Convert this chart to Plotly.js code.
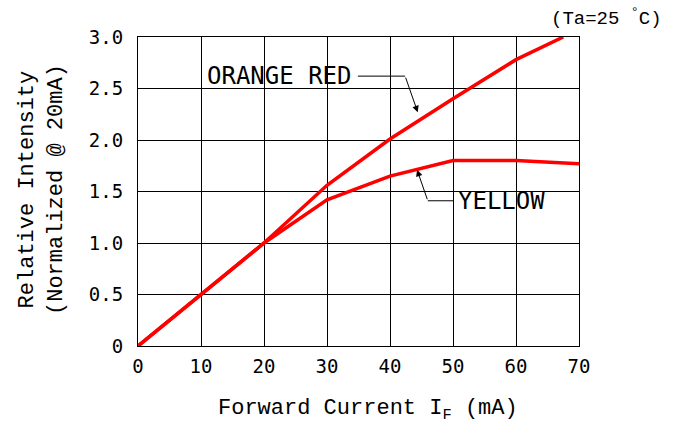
<!DOCTYPE html>
<html><head><meta charset="utf-8">
<script src="https://cdn.plot.ly/plotly-3.0.1.min.js"></script>
<style>html,body{margin:0;padding:0;background:#fff}#chart{width:687px;height:429px}</style>
</head><body><div id="chart"></div>
<script>
const currentX = [0, 10, 20, 30, 40, 50, 60, 67.5];
const orangeRed = [0, 0.5, 1.0, 1.56, 2.01, 2.4, 2.78, 3.0];
const yellowX = [0, 10, 20, 30, 40, 50, 60, 70];
const yellow = [0, 0.5, 1.0, 1.42, 1.65, 1.8, 1.8, 1.77];
const xTicks = [0, 10, 20, 30, 40, 50, 60, 70];
const yTicks = [0, 0.5, 1.0, 1.5, 2.0, 2.5, 3.0];
const yTickText = ['0', '0.5', '1.0', '1.5', '2.0', '2.5', '3.0'];

const serif = 'Liberation Mono, DejaVu Sans Mono, monospace';
const mono = 'DejaVu Sans Mono, Liberation Mono, monospace';

const W = 687, H = 429, L = 138, R = 108, T = 37, B = 83;
const pw = W - L - R, ph = H - T - B;
const px = v => (v - L) / pw;
const py = v => (H - B - v) / ph;

const traces = [
  {x: currentX, y: orangeRed, mode: 'lines', line: {color: '#ff0000', width: 3.5}, name: 'ORANGE RED'},
  {x: yellowX, y: yellow, mode: 'lines', line: {color: '#ff0000', width: 3.5}, name: 'YELLOW'}
];

const layout = {
  width: W, height: H,
  margin: {l: L, r: R, t: T, b: B},
  paper_bgcolor: '#fff', plot_bgcolor: '#fff',
  showlegend: false,
  xaxis: {
    range: [0, 70], tickvals: xTicks, ticktext: xTicks.map(String),
    showgrid: true, gridcolor: '#000', gridwidth: 1,
    showline: true, linecolor: '#000', linewidth: 1, mirror: true,
    zeroline: false, ticks: '', ticklabelstandoff: 3,
    tickfont: {family: mono, size: 19, color: '#000'}
  },
  yaxis: {
    range: [0, 3], tickvals: yTicks, ticktext: yTickText,
    showgrid: true, gridcolor: '#000', gridwidth: 1,
    showline: true, linecolor: '#000', linewidth: 1, mirror: true,
    zeroline: false, ticks: '', ticklabelstandoff: 10,
    tickfont: {family: mono, size: 19, color: '#000'}
  },
  shapes: [
    {type: 'line', xref: 'x', yref: 'y', x0: 34.9, y0: 2.62, x1: 42.4, y1: 2.62, line: {color: '#000', width: 1}},
    {type: 'line', xref: 'x', yref: 'y', x0: 46.0, y0: 1.41, x1: 50.0, y1: 1.41, line: {color: '#000', width: 1}}
  ],
  annotations: [
    {x: 22.5, y: 2.62, xref: 'x', yref: 'y', text: 'ORANGE RED', showarrow: false,
     font: {family: mono, size: 24, color: '#000'}},
    {x: 44.4, y: 2.27, ax: 42.4, ay: 2.62, xref: 'x', yref: 'y', axref: 'x', ayref: 'y',
     text: '', showarrow: true, arrowhead: 2, arrowsize: 1.3, arrowwidth: 1, arrowcolor: '#000'},
    {x: 57.7, y: 1.41, xref: 'x', yref: 'y', text: 'YELLOW', showarrow: false,
     font: {family: mono, size: 24, color: '#000'}},
    {x: 44.3, y: 1.71, ax: 46.0, ay: 1.41, xref: 'x', yref: 'y', axref: 'x', ayref: 'y',
     text: '', showarrow: true, arrowhead: 2, arrowsize: 1.3, arrowwidth: 1, arrowcolor: '#000'},
    {x: px(606), y: py(17), xref: 'paper', yref: 'paper', xanchor: 'center', yanchor: 'middle',
     text: '(Ta=25 <sup>°</sup>C)', showarrow: false,
     font: {family: serif, size: 19, color: '#000'}},
    {x: px(368), y: py(410), xref: 'paper', yref: 'paper', xanchor: 'center', yanchor: 'middle',
     text: 'Forward Current I<sub>F</sub> (mA)', showarrow: false,
     font: {family: serif, size: 22, color: '#000'}},
    {x: px(42), y: py(190), xref: 'paper', yref: 'paper', xanchor: 'center', yanchor: 'middle',
     textangle: -90, text: 'Relative Intensity<br>(Normalized @ 20mA)', showarrow: false,
     font: {family: serif, size: 22, color: '#000'}}
  ]
};

Plotly.newPlot('chart', traces, layout, {displayModeBar: false, staticPlot: true});
</script>
</body></html>
